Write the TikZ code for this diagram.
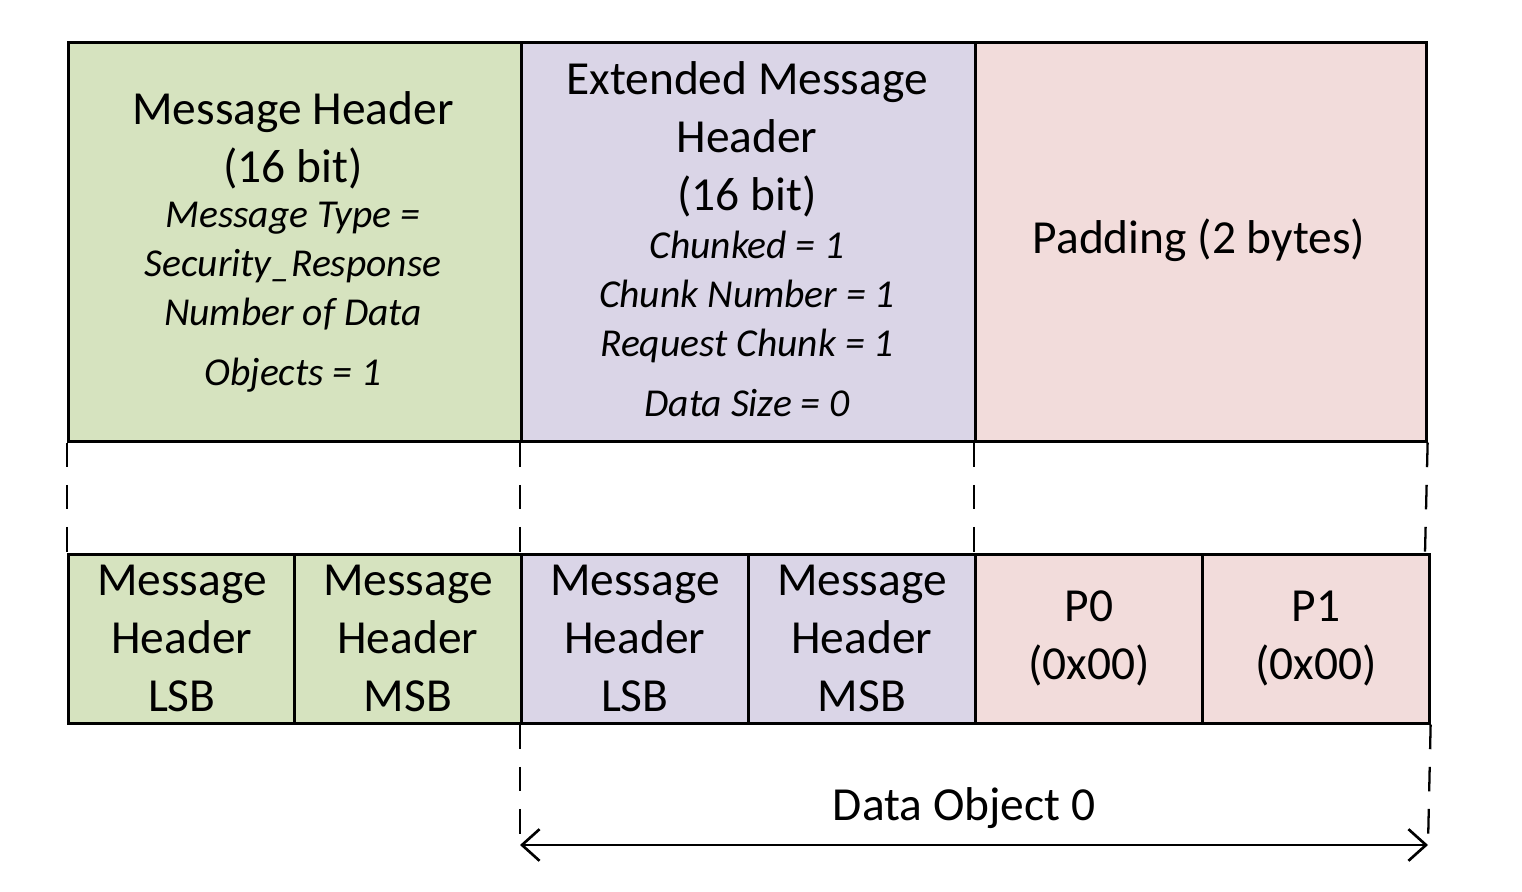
\documentclass[tikz,border=0pt]{standalone}
\usepackage{fontspec}
\setmainfont{Carlito}
\usetikzlibrary{positioning,arrows.meta}
\definecolor{hdrgreen}{HTML}{D6E3BF}
\definecolor{extpurple}{HTML}{DAD5E7}
\definecolor{padpink}{HTML}{F2DCDB}
\tikzset{
  field/.style={draw, line width=1.5pt, anchor=north west, inner sep=0pt, align=center},
  big/.style={font=\fontsize{27}{33}\selectfont},
  small/.style={font=\fontsize{22.5}{28}\selectfont\itshape},
  guide/.style={line width=1.3pt, dash pattern=on 14pt off 10pt}
}
\begin{document}
\begin{tikzpicture}[x=0.02cm,y=-0.02cm]
\useasboundingbox (0,0) rectangle (1522,892);
% upper row
\node[field, fill=hdrgreen, minimum width=453*0.02cm, minimum height=399*0.02cm] (mh) at (67,41) {};
\node[field, fill=extpurple, minimum width=454*0.02cm, minimum height=399*0.02cm] (emh) at (520,41) {};
\node[field, fill=padpink, minimum width=451*0.02cm, minimum height=399*0.02cm] (pad) at (974,41) {};
\node[big, align=center] at (293,140) {Message Header\\(16 bit)};
\node[small, align=center] at (293,297) {Message Type =\\Security\_Response\\Number of Data\\[6pt]Objects = 1};
\node[big, align=center] at (747,139) {Extended Message\\Header\\(16 bit)};
\node[small, align=center] at (747,324) {Chunked = 1\\Chunk Number = 1\\Request Chunk = 1\\[6pt]Data Size = 0};
\node[big] at (1199,240) {Padding (2 bytes)};
% lower row
\foreach \n/\x/\c/\t in {mlsb/67/hdrgreen/{Message\\Header\\LSB},
                         mmsb/293/hdrgreen/{Message\\Header\\MSB},
                         elsb/520/extpurple/{Message\\Header\\LSB},
                         emsb/747/extpurple/{Message\\Header\\MSB},
                         pzero/974/padpink/{P0\\(0x00)},
                         pone/1201/padpink/{P1\\(0x00)}}
  \node[field, big, fill=\c, minimum width=227*0.02cm, minimum height=169*0.02cm] (\n) at (\x,553) {\t};
% guides
\draw[guide] (mh.south west) -- (mlsb.north west);
\draw[guide] (emh.south west) -- (elsb.north west);
\draw[guide] (pad.south west) -- (pzero.north west);
\draw[guide] (pad.south east) -- (1425,553);
\coordinate (dl) at (520,845);
\coordinate (dr) at (1428,845);
\draw[guide] (elsb.south west) -- (dl);
\draw[guide] (pone.south east) -- (dr);
\draw[line width=1.5pt, {Straight Barb[length=10pt,width=18pt]}-{Straight Barb[length=10pt,width=18pt]}] (dl) -- (dr);
\node[big] (dobj) at (964,808) {Data Object 0};
\end{tikzpicture}
\end{document}
